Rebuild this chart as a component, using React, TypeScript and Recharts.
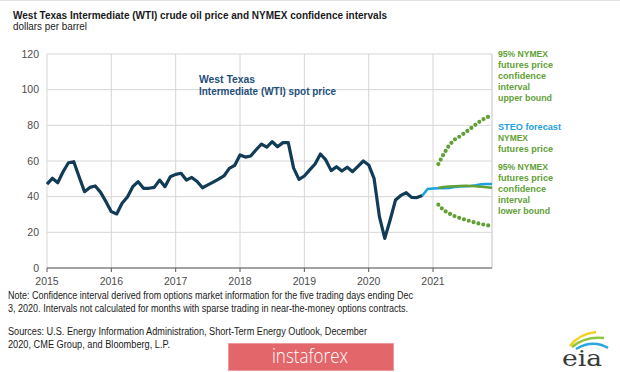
import React from 'react';
import { LineChart, Line, XAxis, YAxis, CartesianGrid, ReferenceLine } from 'recharts';

const yearLabels = ['2015', '2016', '2017', '2018', '2019', '2020', '2021'];
const yTicks = [0, 20, 40, 60, 80, 100, 120];
const monthCount = 84;

// monthly WTI spot price, Jan 2015 .. Nov 2020
const wtiSpot = [
  47, 50.3, 47.8, 54, 59, 59.6, 51, 42.8, 45.2, 46, 42.4, 37.2,
  31.6, 30.3, 36.3, 39.8, 45.6, 48.4, 44.7, 44.7, 45.2, 49.3, 45.6, 51.2,
  52.5, 53.1, 49.3, 50.8, 48.5, 45, 46.6, 48.2, 49.8, 51.6, 55.9, 57.5,
  63.4, 62.2, 62.8, 66.3, 69.5, 67.8, 70.8, 68, 70.3, 70.3, 56, 49.7,
  51.6, 55, 58.3, 63.9, 60.6, 54.6, 56.8, 54.4, 56.5, 54, 57, 60,
  57.8, 50.3, 28.8, 16.6, 26.9, 38.1, 40.7, 42.2, 39.6, 39.5, 40.6,
];
// STEO forecast, Nov 2020 .. Dec 2021
const steoStart = 70;
const steoForecast = [40.6, 44.3, 44.6, 44.7, 44.7, 44.9, 45.4, 45.7, 45.8, 46.0, 46.4, 47.0, 47.1, 47.1];
// NYMEX futures and 95% confidence interval, Feb 2021 .. Dec 2021
const nymexStart = 73;
const nymexFutures = [45.0, 45.4, 45.7, 45.9, 46.0, 46.1, 46.0, 45.9, 45.6, 45.3, 45.0];
const upperBound = [58.3, 64, 68.8, 72, 73.8, 76, 78.2, 80.5, 82.8, 84.5, 85.4];
const lowerBound = [35.5, 32.3, 30.6, 29.1, 28, 27.1, 26.2, 25.3, 24.6, 24, 23.6];

const upperLabel = ['95% NYMEX', 'futures price', 'confidence', 'interval', 'upper bound'];
const steoLabel = 'STEO forecast';
const nymexLabel = ['NYMEX', 'futures price'];
const lowerLabel = ['95% NYMEX', 'futures price', 'confidence', 'interval', 'lower bound'];

const pick = (arr: number[], start: number, i: number) =>
  i >= start && i - start < arr.length ? arr[i - start] : null;

const data = Array.from({ length: monthCount }, (_, i) => ({
  i,
  wti: pick(wtiSpot, 0, i),
  steo: pick(steoForecast, steoStart, i),
  nymex: pick(nymexFutures, nymexStart, i),
  upper: pick(upperBound, nymexStart, i),
  lower: pick(lowerBound, nymexStart, i),
}));

const xTicks = yearLabels.map((_, k) => k * 12);

const GREEN = '#62a037';
const BLUE = '#1da1e0';
const DARK = '#123c56';
const SANS = '"Liberation Sans", Arial, sans-serif';
const LINE_H = 11;

const labelWidths: Record<string, number> = {
  '95% NYMEX': 50,
  'futures price': 55,
  'confidence': 48,
  'interval': 32,
  'upper bound': 54,
  'lower bound': 52,
  'NYMEX': 30,
  'STEO forecast': 63,
};

function LabelBlock({ lines, y0, fill }: { lines: string[]; y0: number; fill: string }) {
  return (
    <>
      {lines.map((t, k) => (
        <text key={k} x={498} y={y0 + k * LINE_H} fill={fill} textLength={labelWidths[t]} lengthAdjust="spacingAndGlyphs">
          {t}
        </text>
      ))}
    </>
  );
}

export default function App() {
  return (
    <div style={{ position: 'absolute', left: 0, top: 0, width: 620, height: 372, background: '#fff', overflow: 'hidden' }}>
      <LineChart
        width={620}
        height={372}
        data={data}
        margin={{ top: 54, right: 128, bottom: 74, left: 0 }}
      >
        <CartesianGrid stroke="#d6d6d6" strokeWidth={1} vertical={true} horizontal={true} />
        <ReferenceLine x={83} stroke="#d6d6d6" strokeWidth={1} />
        <XAxis
          type="number"
          dataKey="i"
          domain={[0, 83]}
          ticks={xTicks}
          tickFormatter={(v: number) => yearLabels[Math.round(v / 12)] ?? ''}
          stroke="#595959"
          tickSize={4}
          tickMargin={6}
          height={30}
          tick={{ fontSize: 10.5, fill: '#4d4d4d', fontFamily: SANS }}
          interval={0}
        />
        <YAxis
          domain={[0, 120]}
          ticks={yTicks}
          width={47}
          axisLine={false}
          tickLine={false}
          tick={{ fontSize: 10.5, fill: '#4d4d4d', fontFamily: SANS }}
          interval={0}
        />
        <Line dataKey="wti" stroke={DARK} strokeWidth={3.2} dot={false} isAnimationActive={false} strokeLinejoin="round" />
        <Line dataKey="steo" stroke={BLUE} strokeWidth={2.5} dot={false} isAnimationActive={false} />
        <Line dataKey="nymex" stroke={GREEN} strokeWidth={2.5} dot={false} isAnimationActive={false} />
        <Line dataKey="upper" stroke={GREEN} strokeWidth={4.2} strokeDasharray="0 5" strokeLinecap="round" dot={false} isAnimationActive={false} />
        <Line dataKey="lower" stroke={GREEN} strokeWidth={4.2} strokeDasharray="0 5" strokeLinecap="round" dot={false} isAnimationActive={false} />
      </LineChart>
      <svg width={620} height={372} style={{ position: 'absolute', left: 0, top: 0, pointerEvents: 'none' }}>
        <line x1={0} y1={0.5} x2={620} y2={0.5} stroke="#e2e2e2" />
        <text x={13} y={18.5} fontFamily={SANS} fontWeight="bold" fontSize={11} fill="#1a1a1a" textLength={374} lengthAdjust="spacingAndGlyphs">
          West Texas Intermediate (WTI) crude oil price and NYMEX confidence intervals
        </text>
        <text x={13} y={29.5} fontFamily={SANS} fontSize={10.5} fill="#1a1a1a" textLength={74} lengthAdjust="spacingAndGlyphs">
          dollars per barrel
        </text>

        <g fontFamily={SANS} fontWeight="bold" fontSize={11.5} fill="#1f4f7a">
          <text x={199} y={83} textLength={56} lengthAdjust="spacingAndGlyphs">West Texas</text>
          <text x={199} y={95} textLength={137} lengthAdjust="spacingAndGlyphs">Intermediate (WTI) spot price</text>
        </g>

        <g fontFamily={SANS} fontWeight="bold" fontSize={9.5}>
          <LabelBlock lines={upperLabel} y0={57} fill={GREEN} />
          <LabelBlock lines={[steoLabel]} y0={129.5} fill={BLUE} />
          <LabelBlock lines={nymexLabel} y0={140.5} fill={GREEN} />
          <LabelBlock lines={lowerLabel} y0={170} fill={GREEN} />
        </g>

        <g fontFamily={SANS} fontSize={10} fill="#1a1a1a">
          <text x={8} y={299} textLength={405} lengthAdjust="spacingAndGlyphs">
            Note: Confidence interval derived from options market information for the five trading days ending Dec
          </text>
          <text x={8} y={311.5} textLength={400} lengthAdjust="spacingAndGlyphs">
            3, 2020. Intervals not calculated for months with sparse trading in near-the-money options contracts.
          </text>
          <text x={8} y={335} textLength={359} lengthAdjust="spacingAndGlyphs">
            Sources: U.S. Energy Information Administration, Short-Term Energy Outlook, December
          </text>
          <text x={8} y={347.5} textLength={162} lengthAdjust="spacingAndGlyphs">
            2020, CME Group, and Bloomberg, L.P.
          </text>
        </g>

        <rect x={228.5} y={343.5} width={165} height={27} fill="#e3666a" stroke="#ee9a9c" strokeWidth={1} />
        <text x={272} y={363} fontFamily='"Open Sans", "Noto Sans", sans-serif' fontWeight={300} fontSize={20} fill="#ffffff" textLength={76} lengthAdjust="spacingAndGlyphs">
          instaforex
        </text>

        <path d="M570 346 Q579 334 596 332" stroke="#f2d21c" strokeWidth={2.4} fill="none" />
        <path d="M572 347 Q585 336 604 338" stroke="#8dc63f" strokeWidth={2.4} fill="none" />
        <path d="M576 349 Q593 339 608 348" stroke="#2aa6de" strokeWidth={2.4} fill="none" />
        <text x={562} y={366} fontFamily='"DejaVu Serif", "Liberation Serif", serif' fontSize={22} fill="#3a3a3a" textLength={40} lengthAdjust="spacingAndGlyphs">
          eia
        </text>
      </svg>
    </div>
  );
}
